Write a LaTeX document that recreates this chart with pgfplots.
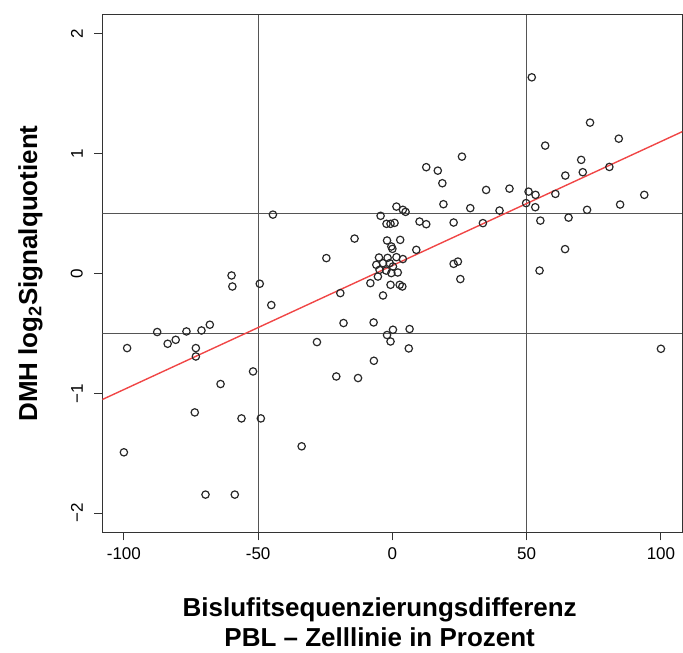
\documentclass[border=0pt]{standalone}
\usepackage{pgfplots}
\pgfplotsset{compat=1.18}
\usepackage{fontspec}
\setmainfont{Liberation Sans}
\definecolor{regred}{RGB}{240,70,70}
\definecolor{ptcol}{RGB}{40,40,40}
\definecolor{refcol}{RGB}{85,85,85}
\begin{document}
\begin{tikzpicture}
\begin{axis}[
  scale only axis,
  width=580.5pt, height=518pt,
  xmin=-108, xmax=108, ymin=-2.16, ymax=2.16,
  xtick={-100,-50,0,50,100},
  xticklabels={-100,-50,0,50,100},
  ytick={-2,-1,0,1,2},
  yticklabels={−2,−1,0,1,2},
  xtick pos=bottom, ytick pos=left,
  tick align=outside,
  major tick length=8pt,
  every tick/.style={black!80, line width=1pt},
  axis line style={black!80, line width=1.2pt},
  ticklabel style={font=\fontsize{17}{17}\selectfont},
  xticklabel shift=4pt,
  yticklabel style={rotate=90, anchor=south},
  yticklabel shift=8pt,
  /pgf/number format/assume math mode=true,
  xlabel={Bislufitsequenzierungsdifferenz\\PBL – Zelllinie in Prozent},
  xlabel style={at={(axis description cs:0.478,-0.174)}, anchor=center, align=center, font=\fontsize{26}{30}\selectfont\bfseries},
  ylabel={DMH log\textsubscript{2}Signalquotient},
  ylabel style={at={(axis description cs:-0.124,0.5)}, anchor=center, font=\fontsize{26}{30}\selectfont\bfseries},
  clip=true,
]
% reference lines
\addplot[refcol, line width=1.2pt, forget plot] coordinates {(-50,-2.16) (-50,2.16)};
\addplot[refcol, line width=1.2pt, forget plot] coordinates {(50,-2.16) (50,2.16)};
\addplot[refcol, line width=1.2pt, forget plot] coordinates {(-108,0.5) (108,0.5)};
\addplot[refcol, line width=1.2pt, forget plot] coordinates {(-108,-0.5) (108,-0.5)};
% data points
\addplot[only marks, mark=o, mark size=3.7pt, mark options={ptcol, line width=1.2pt}] coordinates {
(-87.6,-0.488) (-68.0,-0.427) (-71.1,-0.475) (-76.7,-0.483) (-80.7,-0.553)
(-83.7,-0.586) (-98.8,-0.622) (-73.2,-0.622) (-73.2,-0.692) (-51.9,-0.817)
(-64.0,-0.922) (-73.6,-1.159) (-56.2,-1.209) (-49.0,-1.209) (-100.0,-1.492)
(-69.6,-1.845) (-58.7,-1.845) (-33.8,-1.442) (-45.1,-0.263) (-44.5,0.492)
(-59.9,-0.016) (-59.6,-0.108) (-49.4,-0.085)
(1.5,0.559) (3.9,0.532) (4.9,0.515) (-4.4,0.482) (-2.2,0.415)
(-0.7,0.415) (0.8,0.423) (10.1,0.434) (12.6,0.412) (-14.1,0.292)
(-2.0,0.276) (2.9,0.281) (-0.4,0.226) (0.0,0.206) (8.9,0.198)
(-24.6,0.129) (-5.0,0.134) (1.5,0.137) (3.9,0.121) (-1.8,0.131)
(-6.0,0.073) (-3.5,0.087) (-1.0,0.087) (0.2,0.059) (-4.8,0.031)
(-2.3,0.025) (2.0,0.009) (-0.4,0.004) (-5.4,-0.025) (-8.2,-0.080)
(-0.7,-0.094) (2.7,-0.094) (3.7,-0.108) (-19.4,-0.163) (-3.5,-0.183)
(-18.2,-0.413) (-7.0,-0.408) (0.2,-0.469) (6.4,-0.463) (-2.0,-0.513)
(-0.7,-0.567) (-28.1,-0.572) (6.1,-0.625) (-6.9,-0.728) (-20.9,-0.859)
(-12.8,-0.872)
(51.9,1.638) (73.6,1.260) (84.3,1.126) (56.9,1.068) (25.9,0.976)
(12.6,0.888) (16.9,0.859) (70.3,0.949) (18.6,0.754) (70.9,0.846)
(80.8,0.890) (64.4,0.818) (34.9,0.698) (43.6,0.709) (50.7,0.684)
(53.3,0.657) (60.7,0.665) (93.8,0.657) (19.0,0.579) (49.8,0.588)
(53.2,0.554) (84.8,0.576) (29.0,0.546) (39.9,0.526) (72.5,0.532)
(22.8,0.426) (33.7,0.421) (55.1,0.442) (65.6,0.467) (22.8,0.081)
(24.4,0.100) (64.3,0.204) (25.3,-0.046) (54.8,0.025) (100.0,-0.628)
};
% regression line
\addplot[regred, line width=1.4pt, no marks] coordinates {(-108,-1.051) (108,1.185)};
\end{axis}
\path ([xshift=-102.5pt,yshift=-120.3pt]current axis.south west) rectangle ([yshift=14.8pt]current axis.north east);
\end{tikzpicture}
\end{document}
